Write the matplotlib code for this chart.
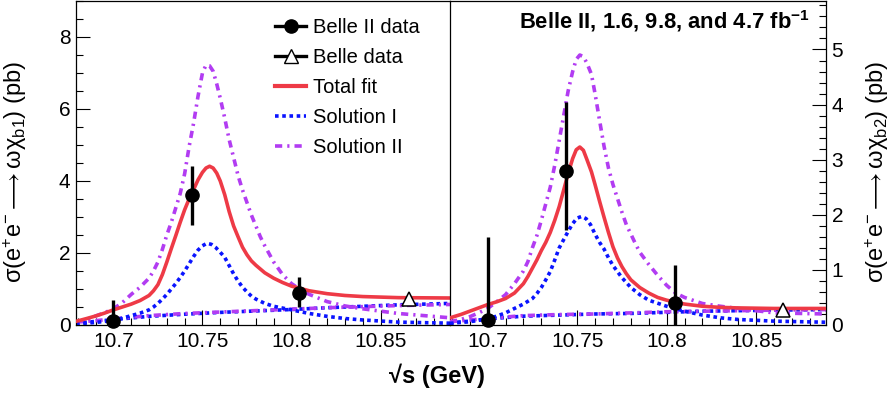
import matplotlib
matplotlib.use("Agg")
import matplotlib.pyplot as plt
from matplotlib.lines import Line2D
from matplotlib.ticker import MultipleLocator, FuncFormatter

plt.rcParams['font.family'] = ['Liberation Sans', 'DejaVu Sans']
plt.rcParams['mathtext.fontset'] = 'custom'
plt.rcParams['mathtext.rm'] = 'Liberation Sans'
plt.rcParams['mathtext.it'] = 'Liberation Sans:italic'
plt.rcParams['mathtext.bf'] = 'Liberation Sans:bold'
plt.rcParams['mathtext.default'] = 'regular'
plt.rcParams['mathtext.fallback'] = 'stixsans'

# ---------------- data: left panel (omega chi_b1) ----------------
b2_x_L = [10.700, 10.744, 10.804]
b2_y_L = [0.10, 3.61, 0.90]
b2_elo_L = [0.10, 0.83, 0.39]
b2_ehi_L = [0.59, 0.81, 0.42]
b1_x_L = [10.866]
b1_y_L = [0.71]

total_x_L = [10.679, 10.685, 10.69, 10.695, 10.70, 10.705, 10.71, 10.715, 10.72, 10.7225,
             10.725, 10.7275, 10.73, 10.7325, 10.735, 10.7375, 10.74, 10.7425, 10.745, 10.7475,
             10.75, 10.752, 10.754, 10.756, 10.758, 10.76, 10.7625, 10.765, 10.7675, 10.77,
             10.7725, 10.775, 10.7775, 10.78, 10.785, 10.79, 10.795, 10.80, 10.81, 10.82,
             10.83, 10.84, 10.86, 10.889]
total_L = [0.10, 0.18, 0.25, 0.33, 0.42, 0.50, 0.58, 0.68, 0.82, 0.95,
           1.12, 1.40, 1.75, 2.12, 2.48, 2.85, 3.20, 3.50, 3.76, 4.03,
           4.24, 4.36, 4.41, 4.36, 4.22, 4.00, 3.62, 3.15, 2.75, 2.45,
           2.16, 1.95, 1.78, 1.66, 1.45, 1.30, 1.18, 1.08, 0.95, 0.87,
           0.82, 0.79, 0.76, 0.75]

sol2_x_L = [10.679, 10.685, 10.69, 10.695, 10.70, 10.705, 10.71, 10.715, 10.72, 10.7225,
            10.725, 10.7275, 10.73, 10.7325, 10.735, 10.7375, 10.74, 10.7425, 10.745, 10.7475,
            10.75, 10.752, 10.754, 10.756, 10.758, 10.76, 10.7625, 10.765, 10.7675, 10.77,
            10.7725, 10.775, 10.7775, 10.78, 10.7825, 10.785, 10.79, 10.795, 10.80, 10.805,
            10.81, 10.82, 10.83, 10.84, 10.86, 10.889]
sol2_peak_L = [0.08, 0.15, 0.25, 0.34, 0.45, 0.62, 0.85, 1.05, 1.30, 1.50,
               1.75, 2.10, 2.50, 2.85, 3.25, 3.65, 4.20, 4.95, 5.60, 6.35,
               7.00, 7.22, 7.20, 7.05, 6.70, 6.30, 5.75, 5.15, 4.65, 4.15,
               3.75, 3.40, 3.05, 2.75, 2.45, 2.20, 1.75, 1.40, 1.15, 0.98,
               0.85, 0.65, 0.53, 0.45, 0.32, 0.20]

sol1_x_L = [10.679, 10.69, 10.70, 10.705, 10.71, 10.715, 10.72, 10.7225, 10.725, 10.7275,
            10.73, 10.7325, 10.735, 10.7375, 10.74, 10.7425, 10.745, 10.7475, 10.75, 10.7525,
            10.755, 10.7575, 10.76, 10.7625, 10.765, 10.7675, 10.77, 10.7725, 10.775, 10.7775,
            10.78, 10.785, 10.79, 10.795, 10.80, 10.81, 10.82, 10.83, 10.84, 10.86, 10.889]
sol1_peak_L = [0.03, 0.07, 0.13, 0.19, 0.26, 0.33, 0.42, 0.50, 0.60, 0.72,
               0.85, 1.00, 1.15, 1.32, 1.50, 1.70, 1.90, 2.08, 2.20, 2.27,
               2.24, 2.15, 2.02, 1.88, 1.65, 1.42, 1.22, 1.05, 0.92, 0.80,
               0.72, 0.60, 0.52, 0.47, 0.42, 0.32, 0.24, 0.18, 0.14, 0.08, 0.05]

flat_x_L = [10.679, 10.69, 10.70, 10.72, 10.74, 10.76, 10.78, 10.80, 10.82, 10.84, 10.86, 10.889]
sol1_flat_L = [0.05, 0.10, 0.15, 0.24, 0.30, 0.35, 0.39, 0.43, 0.48, 0.52, 0.56, 0.60]
sol2_flat_L = [0.08, 0.12, 0.17, 0.26, 0.32, 0.36, 0.40, 0.44, 0.48, 0.51, 0.54, 0.57]

# ---------------- data: right panel (omega chi_b2) ----------------
b2_x_R = [10.700, 10.744, 10.8045]
b2_y_R = [0.09, 2.79, 0.40]
b2_elo_R = [0.09, 1.07, 0.40]
b2_ehi_R = [1.50, 1.26, 0.69]
b1_x_R = [10.865]
b1_y_R = [0.27]

total_x_R = [10.679, 10.685, 10.69, 10.695, 10.70, 10.705, 10.71, 10.715, 10.72, 10.7225,
             10.725, 10.7275, 10.73, 10.7325, 10.735, 10.7375, 10.74, 10.7425, 10.745, 10.7475,
             10.7495, 10.7515, 10.7535, 10.7555, 10.758, 10.76, 10.7625, 10.765, 10.7675, 10.77,
             10.7725, 10.775, 10.7775, 10.78, 10.785, 10.79, 10.795, 10.80, 10.81, 10.82,
             10.83, 10.84, 10.86, 10.889]
total_R = [0.13, 0.19, 0.25, 0.31, 0.37, 0.42, 0.48, 0.58, 0.75, 0.88,
           1.03, 1.18, 1.35, 1.50, 1.68, 1.90, 2.15, 2.45, 2.75, 3.02,
           3.18, 3.23, 3.17, 3.00, 2.78, 2.55, 2.25, 1.96, 1.68, 1.42,
           1.22, 1.06, 0.93, 0.82, 0.68, 0.58, 0.50, 0.45, 0.38, 0.34,
           0.32, 0.31, 0.30, 0.30]

sol2_x_R = [10.679, 10.685, 10.69, 10.695, 10.70, 10.705, 10.71, 10.715, 10.72, 10.7225,
            10.725, 10.7275, 10.73, 10.7325, 10.735, 10.7375, 10.74, 10.7425, 10.745, 10.7475,
            10.7495, 10.7515, 10.7535, 10.7555, 10.758, 10.76, 10.7625, 10.765, 10.7675, 10.77,
            10.7725, 10.775, 10.7775, 10.78, 10.7825, 10.785, 10.79, 10.795, 10.80, 10.805,
            10.81, 10.82, 10.83, 10.84, 10.86, 10.889]
sol2_peak_R = [0.06, 0.10, 0.15, 0.22, 0.30, 0.42, 0.55, 0.75, 0.98, 1.15,
               1.40, 1.62, 1.90, 2.20, 2.50, 2.90, 3.35, 3.80, 4.25, 4.60,
               4.82, 4.90, 4.87, 4.75, 4.55, 4.20, 3.72, 3.25, 2.85, 2.55,
               2.30, 2.05, 1.82, 1.65, 1.48, 1.32, 1.10, 0.90, 0.72, 0.58,
               0.50, 0.39, 0.34, 0.30, 0.22, 0.20]

sol1_x_R = [10.679, 10.69, 10.70, 10.705, 10.71, 10.715, 10.72, 10.725, 10.7275, 10.73,
            10.7325, 10.735, 10.7375, 10.74, 10.7425, 10.745, 10.7475, 10.75, 10.7525, 10.755,
            10.7575, 10.76, 10.7625, 10.765, 10.7675, 10.77, 10.7725, 10.775, 10.78, 10.785,
            10.79, 10.80, 10.81, 10.82, 10.83, 10.84, 10.86, 10.889]
sol1_peak_R = [0.03, 0.06, 0.11, 0.16, 0.22, 0.30, 0.38, 0.48, 0.57, 0.68,
               0.82, 0.97, 1.18, 1.40, 1.55, 1.70, 1.84, 1.94, 1.97, 1.93,
               1.82, 1.65, 1.50, 1.38, 1.22, 1.08, 0.97, 0.86, 0.68, 0.55,
               0.45, 0.34, 0.25, 0.18, 0.13, 0.10, 0.07, 0.05]

flat_x_R = [10.679, 10.69, 10.70, 10.72, 10.74, 10.76, 10.78, 10.80, 10.82, 10.84, 10.86, 10.889]
sol1_flat_R = [0.04, 0.07, 0.11, 0.16, 0.18, 0.20, 0.21, 0.23, 0.25, 0.26, 0.27, 0.28]
sol2_flat_R = [0.06, 0.09, 0.12, 0.17, 0.19, 0.20, 0.22, 0.24, 0.25, 0.26, 0.27, 0.28]

RED = '#ee3a46'
BLUE = '#0a14ff'
PURPLE = '#b23cf2'
DASH_B = (1.0, 1.0)
DASH_P = (2.0, 1.4, 0.6, 1.4)

fig = plt.figure(figsize=(8.93, 3.94), dpi=100)
axL = fig.add_axes([76/893, 69/394, 374/893, 324/394])
axR = fig.add_axes([450/893, 69/394, 376/893, 324/394])
axR.patch.set_visible(False)

def style_axis(ax, ylim, ymaj, ymin, right=False):
    ax.set_xlim(10.679, 10.889)
    ax.set_ylim(*ylim)
    ax.xaxis.set_major_locator(MultipleLocator(0.05))
    ax.xaxis.set_minor_locator(MultipleLocator(0.01))
    ax.xaxis.set_major_formatter(FuncFormatter(lambda v, p: '%g' % round(v, 3)))
    ax.yaxis.set_major_locator(MultipleLocator(ymaj))
    ax.yaxis.set_minor_locator(MultipleLocator(ymin))
    ax.yaxis.set_major_formatter(FuncFormatter(lambda v, p: '%g' % v))
    ax.tick_params(axis='both', which='both', direction='in', labelsize=15,
                   top=False, left=not right, right=right,
                   labelleft=not right, labelright=right, width=0.8)
    ax.tick_params(axis='x', which='major', length=11, pad=5)
    ax.tick_params(axis='x', which='minor', length=5)
    ax.tick_params(axis='y', which='major', length=10, pad=4)
    ax.tick_params(axis='y', which='minor', length=5)
    for s in ax.spines.values():
        s.set_linewidth(0.9)

def draw(ax, tx_, tot, s1x, s1p, s2x, s2p, flx, s1f, s2f, bx, by, elo, ehi, tx, ty):
    ax.plot(flx, s1f, color=BLUE, lw=2.6, dashes=DASH_B, zorder=2)
    ax.plot(flx, s2f, color=PURPLE, lw=2.6, dashes=DASH_P, zorder=2)
    ax.plot(s2x, s2p, color=PURPLE, lw=2.6, dashes=DASH_P, zorder=2)
    ax.plot(s1x, s1p, color=BLUE, lw=2.6, dashes=DASH_B, zorder=2)
    ax.plot(tx_, tot, color=RED, lw=2.6, zorder=3)
    ax.errorbar(bx, by, yerr=[elo, ehi], fmt='o', color='black', ms=9.5,
                elinewidth=2.4, capsize=0, zorder=5, clip_on=False)
    ax.plot(tx, ty, marker='^', ms=10, mfc='white', mec='black', mew=1.1,
            ls='none', zorder=5, clip_on=False)

draw(axL, total_x_L, total_L, sol1_x_L, sol1_peak_L, sol2_x_L, sol2_peak_L,
     flat_x_L, sol1_flat_L, sol2_flat_L, b2_x_L, b2_y_L, b2_elo_L, b2_ehi_L, b1_x_L, b1_y_L)
draw(axR, total_x_R, total_R, sol1_x_R, sol1_peak_R, sol2_x_R, sol2_peak_R,
     flat_x_R, sol1_flat_R, sol2_flat_R, b2_x_R, b2_y_R, b2_elo_R, b2_ehi_R, b1_x_R, b1_y_R)

style_axis(axL, (0, 9.0), 2, 0.5)
style_axis(axR, (0, 5.88), 1, 0.2, right=True)
axR.spines['left'].set_visible(False)
axL.spines['right'].set_zorder(10)

fig.text(15/893, 1 - 172/394, r'σ(e$^{+}$e$^{-}$$\longrightarrow$ωχ$_{\mathregular{b1}}$) (pb)',
         fontsize=17, rotation=90, ha='center', va='center')
fig.text(877/893, 1 - 172/394, r'σ(e$^{+}$e$^{-}$$\longrightarrow$ωχ$_{\mathregular{b2}}$) (pb)',
         fontsize=17, rotation=90, ha='center', va='center')

fig.text(437/893, 1 - 376/394, '√s (GeV)', fontsize=17, fontweight='bold',
         ha='center', va='center')

axR.text(0.957, 0.938, r'Belle II, 1.6, 9.8, and 4.7 fb$^{\mathbf{-1}}$', transform=axR.transAxes,
         fontsize=15.8, fontweight='bold', ha='right', va='center')

handles = [
    Line2D([], [], color='black', lw=2.4, marker='o', ms=9.5),
    Line2D([], [], color='black', lw=2.4, marker='^', ms=10, mfc='white', mec='black'),
    Line2D([], [], color=RED, lw=3.0),
    Line2D([], [], color=BLUE, lw=2.6, dashes=DASH_B),
    Line2D([], [], color=PURPLE, lw=2.6, dashes=DASH_P),
]
labels = ['Belle II data', 'Belle data', 'Total fit', 'Solution I', 'Solution II']
axL.legend(handles, labels, loc='upper left', bbox_to_anchor=(0.5, 0.986),
           frameon=False, fontsize=14.5, handlelength=1.55, handletextpad=0.35,
           labelspacing=0.55, borderaxespad=0.2)

fig.savefig('out.png', dpi=100)
